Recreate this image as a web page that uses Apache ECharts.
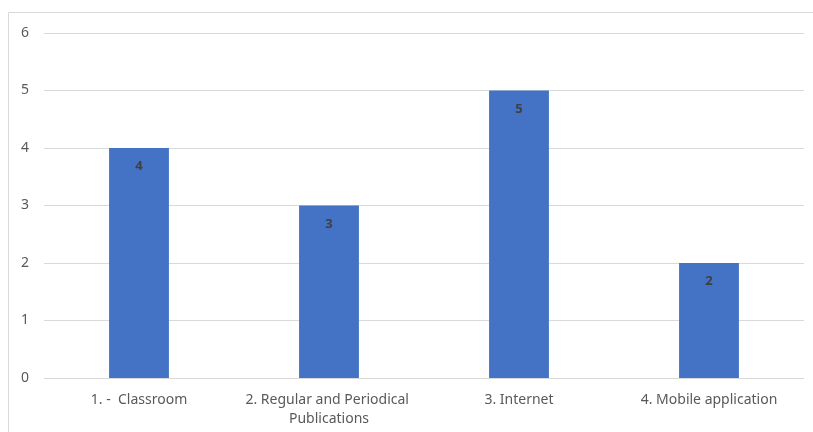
<!DOCTYPE html>
<html>
<head>
<meta charset="utf-8">
<script src="https://cdn.jsdelivr.net/npm/echarts@6/dist/echarts.min.js"></script>
<style>
  html, body { margin: 0; padding: 0; background: #fff; }
  #chart { width: 813px; height: 432px; }
</style>
</head>
<body>
<div id="chart"></div>
<script>
const categories = ['1. -  Classroom', '2. Regular and Periodical Publications', '3. Internet', '4. Mobile application'];
const values = [4, 3, 5, 2];
const yTicks = [0, 1, 2, 3, 4, 5, 6];

const chart = echarts.init(document.getElementById('chart'), null, { renderer: 'canvas' });
const font = '"Noto Sans", "Open Sans", sans-serif';

chart.setOption({
  animation: false,
  backgroundColor: '#ffffff',
  graphic: [{
    type: 'rect',
    shape: { x: 8.5, y: 12.5, width: 820, height: 440 },
    style: { fill: 'none', stroke: '#d9d9d9', lineWidth: 1 },
    silent: true
  }],
  grid: { left: 44, right: 9, top: 33, bottom: 54, containLabel: false },
  xAxis: {
    type: 'category',
    data: categories,
    axisLine: { show: true, lineStyle: { color: '#d9d9d9', width: 1 } },
    axisTick: { show: false },
    axisLabel: {
      color: '#595959', fontFamily: font, fontSize: 14, margin: 13,
      width: 185, overflow: 'break', lineHeight: 19, interval: 0
    }
  },
  yAxis: {
    type: 'value',
    min: yTicks[0],
    max: yTicks[yTicks.length - 1],
    interval: 1,
    axisLine: { show: false },
    axisTick: { show: false },
    splitLine: { lineStyle: { color: '#d9d9d9', width: 1 } },
    axisLabel: { color: '#595959', fontFamily: font, fontSize: 14, margin: 15 }
  },
  series: [{
    type: 'bar',
    data: values,
    barWidth: '31.5%',
    itemStyle: { color: '#4472c4' },
    label: {
      show: true, position: 'insideTop', distance: 12,
      color: '#404040', fontFamily: font, fontSize: 13, fontWeight: 'bold'
    }
  }]
});
</script>
</body>
</html>
